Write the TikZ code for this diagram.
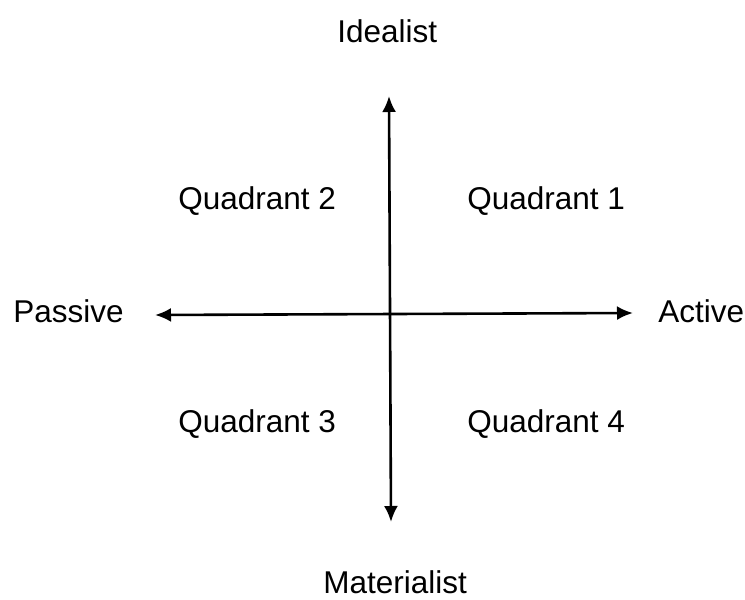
\documentclass[tikz,border=0pt]{standalone}
\usepackage{fontspec}
\setmainfont{Liberation Sans}
\usetikzlibrary{arrows.meta}

\begin{document}
\begin{tikzpicture}[x=1pt,y=-1pt,line width=2.6pt,>={Latex[length=16pt,width=14pt]},
    etiqueta/.style={inner sep=0pt,anchor=base west,font=\fontsize{31.5}{36}\selectfont}]
  \useasboundingbox (0,0) rectangle (745,600);
  % ejes
  \coordinate (izq) at (155,315);
  \coordinate (der) at (633,313);
  \coordinate (arriba) at (389,96);
  \coordinate (abajo) at (391,522);
  \draw[<->] (izq) -- (der);
  \draw[<->] (abajo) -- (arriba);
  % polos
  \node[etiqueta] (ideal) at (336,42) {Idealist};
  \node[etiqueta] (mater) at (322,593) {Materialist};
  \node[etiqueta] (pasivo) at (12,322) {Passive};
  \node[etiqueta] (activo) at (657,322) {Active};
  % cuadrantes
  \node[etiqueta] (q2) at (177,209) {Quadrant 2};
  \node[etiqueta] (q1) at (466,209) {Quadrant 1};
  \node[etiqueta] (q3) at (177,432) {Quadrant 3};
  \node[etiqueta] (q4) at (466,432) {Quadrant 4};
\end{tikzpicture}
\end{document}
